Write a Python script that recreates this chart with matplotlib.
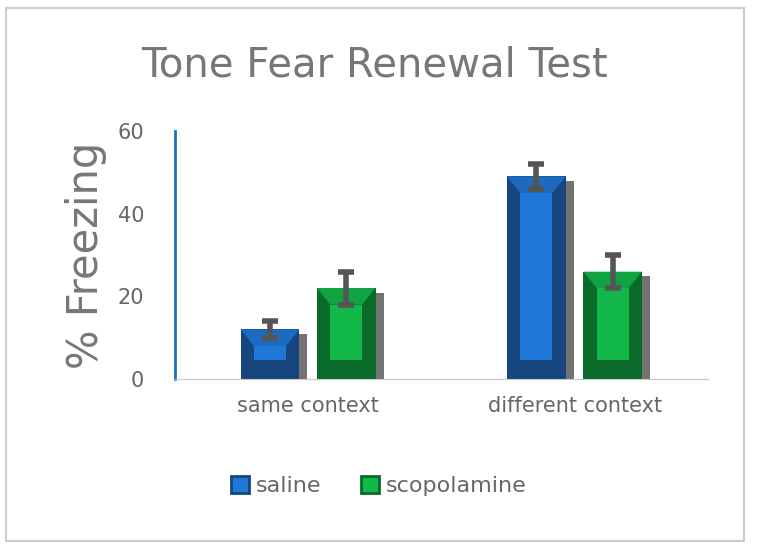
import numpy as np
import matplotlib.pyplot as plt
from matplotlib.patches import Rectangle, Polygon

categories = ["same context", "different context"]
series = ["saline", "scopolamine"]
saline = [12, 49]
saline_err = [2, 3]
scopolamine = [22, 26]
scopolamine_err = [4, 4]

face = {"saline": "#1f78d8", "scopolamine": "#12b84a"}
dark = {"saline": "#17467f", "scopolamine": "#0a6a2a"}

fig = plt.figure(figsize=(7.57, 5.46), dpi=100)
fig.patches.append(Rectangle((0.008, 0.01), 0.975, 0.975, transform=fig.transFigure,
                             fill=False, edgecolor="#cccccc", lw=1.5))
ax = fig.add_axes([0.231, 0.306, 0.704, 0.454])

x = np.arange(len(categories))
w = 0.22
offs = [-0.143, 0.143]
for s, vals, errs, off in zip(series, [saline, scopolamine], [saline_err, scopolamine_err], offs):
    for xi, v, e in zip(x, vals, errs):
        x0 = xi + off - w / 2
        # shadow
        ax.add_patch(Rectangle((x0 + 0.03, 0), w, v - 1.2, color="black", alpha=0.55, lw=0, zorder=1))
        # main bar (dark bevel)
        ax.bar(xi + off, v, w, color=dark[s], zorder=2)
        # lighter inner face
        bx, by = 0.05, 4.0
        ax.add_patch(Polygon([(x0, v), (x0 + w, v), (x0 + w - bx, v - by), (x0 + bx, v - by)],
                             closed=True, color=face[s], alpha=0.75, lw=0, zorder=3))
        ax.add_patch(Rectangle((x0 + bx, 4.5 if v > 10 else v - by), w - 2 * bx,
                               max(v - by - 4.5, 0), color=face[s], lw=0, zorder=3))
        ax.errorbar(xi + off, v, yerr=e, fmt="none", ecolor="#555555", elinewidth=4,
                    capsize=6, capthick=4, zorder=5)

ax.set_xlim(-0.5, 1.5)
ax.set_ylim(0, 60)
ax.set_yticks([0, 20, 40, 60])
ax.set_xticks(x)
ax.set_xticklabels(categories)
ax.tick_params(axis="both", labelsize=15, colors="#666666", length=0, pad=12)
ax.tick_params(axis="y", pad=22)
for sp in ["top", "right"]:
    ax.spines[sp].set_visible(False)
ax.spines["left"].set_color("#1f6fc0")
ax.spines["left"].set_linewidth(2)
ax.spines["bottom"].set_color("#c8c8c8")
ax.set_ylabel("% Freezing", fontsize=30, color="#777777", labelpad=8)

fig.text(0.495, 0.88, "Tone Fear Renewal Test", fontsize=29, color="#777777", ha="center", va="center")

handles = [Rectangle((0, 0), 1, 1, facecolor=face[s], edgecolor=dark[s], lw=2) for s in series]
fig.legend(handles, series, loc="center", bbox_to_anchor=(0.5, 0.11), ncol=2, frameon=False,
           fontsize=16, labelcolor="#666666", handlelength=0.8, handleheight=0.8,
           handletextpad=0.3, columnspacing=1.8)

fig.savefig("out.png", dpi=100)
